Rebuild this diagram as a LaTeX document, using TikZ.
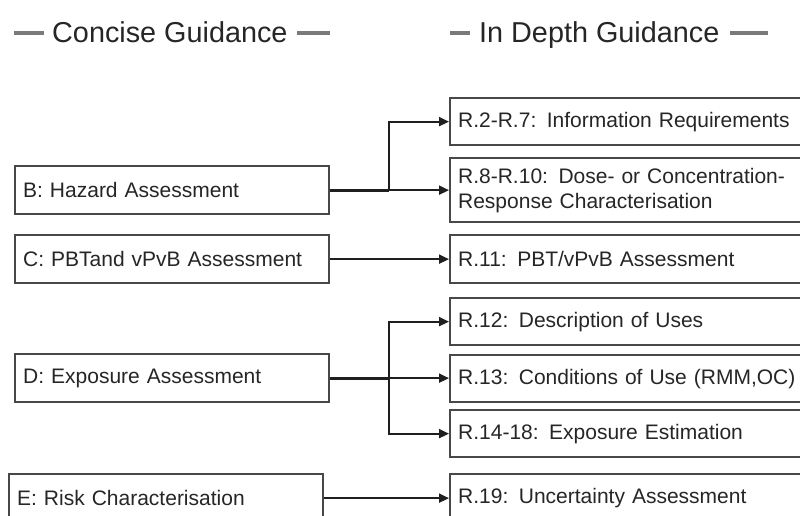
\documentclass[tikz,border=0pt]{standalone}
\usepackage{fontspec}
\setmainfont{Liberation Sans}
\usetikzlibrary{arrows.meta}
\definecolor{txt}{HTML}{262626}
\definecolor{bord}{HTML}{484848}
\definecolor{dashc}{HTML}{7A7A7A}
\tikzset{
  x=1pt, y=-1pt,
  box/.style={draw=bord, line width=2.3pt, fill=white, text=txt, anchor=north west,
    inner ysep=0pt, inner xsep=8pt, align=left, font=\fontsize{21}{25}\selectfont},
  lbox/.style={box, text width=298pt, minimum height=48pt},
  rbox/.style={box, text width=360pt, minimum height=47pt},
  head/.style={text=txt, font=\fontsize{28.8}{32}\selectfont, inner sep=0pt, anchor=base west},
  hdash/.style={draw=dashc, line width=4.5pt},
  conn/.style={draw=black!88, line width=1.9pt, -{Triangle[length=10pt,width=9pt]}},
  stem/.style={draw=black!88, line width=3pt},
}
\begin{document}
\begin{tikzpicture}
\useasboundingbox (0,0) rectangle (800,516);
\clip (0,0) rectangle (800,516);
% headers
\node[head] (hC) at (52,42.5) {Concise Guidance};
\node[head] (hI) at (479,43) {In Depth Guidance};
\draw[hdash] (14,33) -- (44,33);
\draw[hdash] (297,33) -- (330,33);
\draw[hdash] (450,33) -- (470,33);
\draw[hdash] (730,33) -- (768,33);
% left boxes
\node[lbox] (B) at (14,165) {B: Hazard Assessment};
\node[lbox] (C) at (14,234) {C: PBTand vPvB Assessment};
\node[lbox] (D) at (14,353) {D: Exposure Assessment};
\node[lbox] (E) at (8,473) {E: Risk Characterisation};
% right boxes
\node[rbox] (R2) at (449,97) {R.2-R.7: Information Requirements};
\node[rbox, minimum height=64pt, font=\fontsize{21}{25}\selectfont] (R8) at (449,157) {R.8-R.10: Dose- or Concentration-\\Response Characterisation};
\node[rbox, minimum height=48pt] (R11) at (449,234) {R.11: PBT/vPvB Assessment};
\node[rbox] (R12) at (449,297) {R.12: Description of Uses};
\node[rbox] (R13) at (449,354) {R.13: Conditions of Use (RMM,OC)};
\node[rbox] (R14) at (449,409) {R.14-18: Exposure Estimation};
\node[rbox, minimum height=48pt] (R19) at (449,473) {R.19: Uncertainty Assessment};
% connectors
\draw[stem] (B.east) -- ++(59,0) coordinate (jB);
\draw[conn] (jB) |- (R2.west);
\draw[conn] (jB) -- (jB -| R8.west);
\draw[conn] (C.east) -- (C.east -| R11.west);
\draw[stem] (D.east) -- ++(59,0) coordinate (jD);
\draw[conn] (jD) |- (R12.west);
\draw[conn] (jD) -- (jD -| R13.west);
\draw[conn] (jD) |- (R14.west);
\draw[conn] (E.east) -- (E.east -| R19.west);
\end{tikzpicture}
\end{document}
